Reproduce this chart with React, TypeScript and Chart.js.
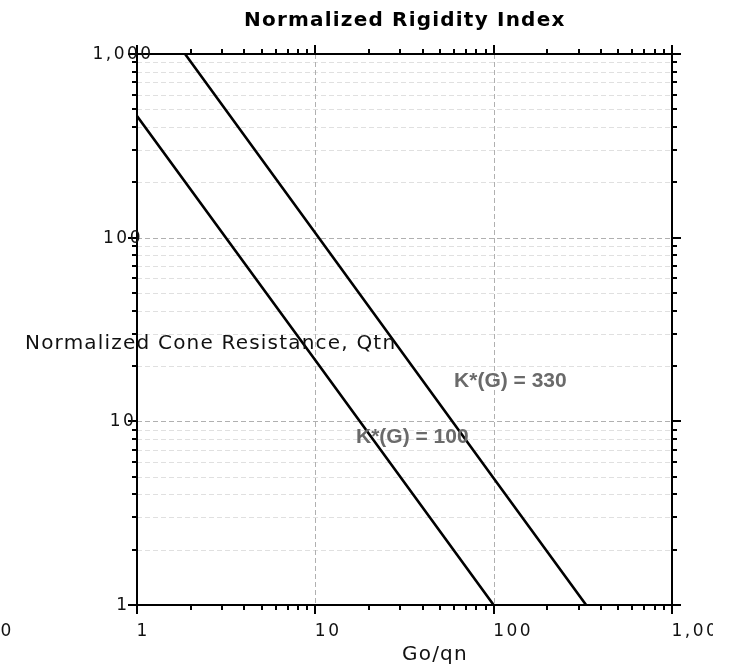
import React, { useEffect, useRef } from "react";
import { Chart, registerables } from "chart.js";

Chart.register(...registerables);

const TITLE = "Normalized Rigidity Index";
const X_TITLE = "Go/qn";
const Y_TITLE = "Normalized Cone Resistance, Qtn";
const X_TICKS = [1, 10, 100, 1000];
const X_TICK_LABELS = ["1", "10", "100", "1,000"];
const Y_TICKS = [1, 10, 100, 1000];
const Y_TICK_LABELS = ["1", "10", "100", "1,000"];
const STRAY_LABEL = "0";

const SERIES_NAMES = ["K*(G) = 100", "K*(G) = 330"];
const K100_X = [1, 10, 100];
const K100_Y = [460, 21.5, 1];
const K330_X = [1.86, 10, 100, 330];
const K330_Y = [1000, 106, 4.9, 1];
const LABEL_X = [16.9, 60];
const LABEL_Y = [7.62, 15.4];

const TICK_FONT = "17px 'DejaVu Sans'";

function allTicks(majors: number[]) {
  const out: { v: number; major: boolean }[] = [];
  for (let i = 0; i < majors.length; i++) {
    const d = majors[i];
    out.push({ v: d, major: true });
    if (i < majors.length - 1) {
      for (let m = 2; m <= 9; m++) out.push({ v: d * m, major: false });
    }
  }
  return out;
}

const framePlugin = {
  id: "frame",
  beforeDatasetsDraw(chart: any) {
    const { ctx, chartArea: a, scales } = chart;
    const xs = scales.x;
    const ys = scales.y;
    ctx.save();
    ctx.lineWidth = 1;
    ctx.setLineDash([5, 3]);
    for (const t of allTicks(Y_TICKS)) {
      const py = Math.round(ys.getPixelForValue(t.v)) + 0.5;
      ctx.strokeStyle = t.major ? "#b0b0b0" : "#e0e0e0";
      ctx.beginPath();
      ctx.moveTo(a.left, py);
      ctx.lineTo(a.right, py);
      ctx.stroke();
    }
    for (const v of X_TICKS) {
      const px = Math.round(xs.getPixelForValue(v)) + 0.5;
      ctx.strokeStyle = "#b0b0b0";
      ctx.beginPath();
      ctx.moveTo(px, a.top);
      ctx.lineTo(px, a.bottom);
      ctx.stroke();
    }
    ctx.restore();
  },
  afterDatasetsDraw(chart: any) {
    const { ctx, chartArea: a, scales } = chart;
    const xs = scales.x;
    const ys = scales.y;
    ctx.save();
    ctx.setLineDash([]);
    ctx.strokeStyle = "#000";
    ctx.lineWidth = 2;
    ctx.strokeRect(a.left, a.top, a.right - a.left, a.bottom - a.top);

    for (const t of allTicks(Y_TICKS)) {
      const py = Math.round(ys.getPixelForValue(t.v));
      const len = t.major ? 9 : 5;
      ctx.beginPath();
      ctx.moveTo(a.left - len, py);
      ctx.lineTo(a.left, py);
      ctx.moveTo(a.right, py);
      ctx.lineTo(a.right + len, py);
      ctx.stroke();
    }
    for (const t of allTicks(X_TICKS)) {
      const px = Math.round(xs.getPixelForValue(t.v));
      const len = t.major ? 9 : 5;
      ctx.beginPath();
      ctx.moveTo(px, a.top - len);
      ctx.lineTo(px, a.top);
      ctx.moveTo(px, a.bottom);
      ctx.lineTo(px, a.bottom + len);
      ctx.stroke();
    }

    // tick labels
    ctx.fillStyle = "#111";
    ctx.font = TICK_FONT;
    (ctx as any).letterSpacing = "2.5px";
    ctx.textBaseline = "alphabetic";
    ctx.textAlign = "center";
    Y_TICKS.forEach((v, i) => {
      const py = ys.getPixelForValue(v) + 5;
      ctx.fillText(Y_TICK_LABELS[i], a.left - 14, py);
    });
    ctx.save();
    ctx.beginPath();
    ctx.rect(0, 0, 713, chart.height);
    ctx.clip();
    ctx.textAlign = "left";
    X_TICKS.forEach((v, i) => {
      const px = xs.getPixelForValue(v);
      ctx.fillText(X_TICK_LABELS[i], px - 0.5, a.bottom + 30.5);
    });
    ctx.restore();
    ctx.textAlign = "left";
    ctx.fillText(STRAY_LABEL, 0.5, a.bottom + 30.5);

    // titles
    ctx.fillStyle = "#000";
    ctx.textAlign = "left";
    ctx.font = "bold 20px 'DejaVu Sans'";
    (ctx as any).letterSpacing = "1.2px";
    ctx.fillText(TITLE, 244, 26);
    ctx.fillStyle = "#111";
    ctx.font = "20px 'DejaVu Sans'";
    ctx.fillText(X_TITLE, 402, 660);
    ctx.fillText(Y_TITLE, 25, 349);
    (ctx as any).letterSpacing = "0px";

    // series annotations
    ctx.fillStyle = "#6a6a6a";
    ctx.font = "bold 21px 'Liberation Sans'";
    ctx.textAlign = "left";
    SERIES_NAMES.forEach((name, i) => {
      ctx.fillText(name, xs.getPixelForValue(LABEL_X[i]), ys.getPixelForValue(LABEL_Y[i]));
    });
    ctx.restore();
  },
};

function toPoints(xv: number[], yv: number[]) {
  return xv.map((x, i) => ({ x, y: yv[i] }));
}

export default function App() {
  const ref = useRef<HTMLCanvasElement | null>(null);
  useEffect(() => {
    if (!ref.current) return;
    const chart = new Chart(ref.current, {
      type: "line",
      data: {
        datasets: [
          {
            label: SERIES_NAMES[0],
            data: toPoints(K100_X, K100_Y),
            borderColor: "#000",
            borderWidth: 2.6,
            pointRadius: 0,
            fill: false,
            tension: 0,
          },
          {
            label: SERIES_NAMES[1],
            data: toPoints(K330_X, K330_Y),
            borderColor: "#000",
            borderWidth: 2.6,
            pointRadius: 0,
            fill: false,
            tension: 0,
          },
        ],
      },
      options: {
        animation: false,
        responsive: false,
        maintainAspectRatio: false,
        layout: { padding: { left: 137, top: 54, right: 72, bottom: 63 } },
        plugins: { legend: { display: false }, tooltip: { enabled: false }, title: { display: false } },
        scales: {
          x: { type: "logarithmic", min: 1, max: 1000, display: false },
          y: { type: "logarithmic", min: 1, max: 1000, display: false },
        },
      },
      plugins: [framePlugin],
    });
    return () => chart.destroy();
  }, []);
  return (
    <div style={{ position: "fixed", left: 0, top: 0, width: 744, height: 668, background: "#fff" }}>
      <canvas ref={ref} width={744} height={668} style={{ width: 744, height: 668, display: "block" }} />
    </div>
  );
}
